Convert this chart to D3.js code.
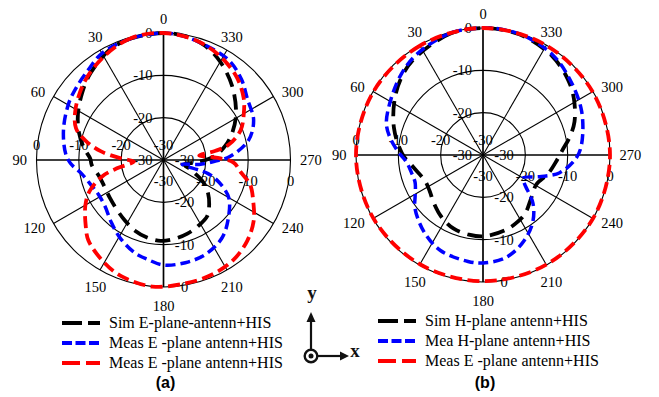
<!DOCTYPE html>
<html>
<head>
<meta charset="utf-8">
<script src="https://cdn.jsdelivr.net/npm/d3@7"></script>
<style>
  html, body { margin: 0; padding: 0; background: #fff; }
  svg { display: block; }
</style>
</head>
<body>
<svg id="chart" width="659" height="397"></svg>
<script>
// ---- Shared polar grid values ----
const ringValues = [-30, -20, -10, 0];
const ringLabels = ["-30", "-20", "-10", "0"];
const angleTicks = [0, 30, 60, 90, 120, 150, 180, 210, 240, 270, 300, 330];

// ---- Panel (a): E-plane patterns (angle in degrees, gain in dB) ----
const simEAngles = [0, 15, 26, 40, 50, 62, 72, 81, 89, 94, 104, 114, 125, 137, 148, 158, 168, 178, 188, 198, 208, 218, 226, 233, 241, 250, 258, 266, 274, 283, 291, 302, 317, 330, 340, 350];
const simEdB     = [0, -0.3, -1, -3.2, -5, -7.1, -9, -10.9, -12.7, -13, -14.3, -14.7, -14.5, -13.9, -13, -12, -11.3, -10.9, -11.2, -11.7, -12.4, -13.2, -15, -16.8, -19.3, -23, -25, -22, -18, -15, -12.7, -9.8, -6.2, -3.2, -1.3, -0.3];

const measEBlueAngles = [0, 15, 30, 40, 50, 59, 73, 86, 92, 100, 110, 118, 128, 140, 151, 163, 171, 180, 192, 204, 217, 228, 240, 248, 253, 257, 263, 269, 273, 283, 294, 306, 316, 327, 342, 352];
const measEBluedB     = [0, -0.3, -0.9, -2.3, -3.2, -3.9, -5.3, -6.8, -8, -10.5, -12, -12.6, -12.4, -10.8, -8.9, -7, -6.2, -5.2, -5.2, -5.6, -7, -9.4, -12.2, -15.8, -19, -25.5, -21.5, -17.5, -14.3, -9.4, -6.7, -5.5, -3.5, -1.8, -1, -0.3];

const measERedAngles = [0, 15, 30, 45, 60, 70, 76, 82, 88, 93, 100, 105, 113, 120, 130, 137, 150, 160, 175, 190, 203, 215, 226, 236, 245, 254, 261, 268, 273, 277, 280, 283, 291, 300, 308, 319, 332, 345];
const measEReddB     = [0, -0.2, -1.8, -3.7, -6, -8, -11, -15, -20, -23, -19, -15, -11, -8.7, -6, -4, -2, -0.8, 0, -0.4, -0.6, -1.2, -2.5, -4.3, -6.6, -8.7, -11.5, -13.5, -18, -21.5, -17.5, -14.3, -10.5, -8.1, -6, -3.8, -2, -0.7];

// ---- Panel (b): H-plane patterns ----
const simHAngles = [0, 15, 35, 45, 57, 73, 89, 100, 114, 124, 134, 146, 158, 170, 181, 197, 207, 216, 228, 241, 254, 266, 274, 282, 290, 302, 312, 325, 340, 350];
const simHdB     = [0, -0.3, -2, -3.2, -5.2, -8, -10.9, -13.3, -15, -14.8, -13.8, -12.4, -11.3, -10.9, -10.8, -11.5, -12.2, -13, -14.7, -15.6, -14, -12.5, -11.1, -9, -7, -4.7, -3.1, -1.5, -0.4, -0.1];

const measHAngles = [0, 15, 33, 45, 59, 72, 80, 88, 95, 104, 112, 121, 128, 142, 156, 172, 180, 192, 204, 216, 226, 235, 240, 249, 257, 268, 276, 294, 311, 325, 341, 352];
const measHdB     = [0, -0.2, -1.5, -2.8, -4.6, -6, -7.8, -10, -11.8, -12.6, -12.7, -11.3, -9.6, -7.2, -5.3, -4.6, -4.5, -5.1, -7.2, -10.1, -13.6, -18, -19.1, -15.7, -11.4, -8, -6.6, -4.5, -2.8, -1.2, -0.2, 0];

const measEbAngles = [0, 30, 60, 90, 120, 150, 180, 210, 240, 270, 300, 330];
const measEbdB     = [0, -0.2, -0.1, 0, -0.1, -0.2, -0.2, -0.1, 0, 0, -0.1, -0.1];

// ---- Legend texts ----
const legendA = ["Sim E-plane-antenn+HIS", "Meas E -plane antenn+HIS", "Meas E -plane antenn+HIS"];
const legendB = ["Sim H-plane antenn+HIS", "Mea H-plane antenn+HIS", "Meas E -plane antenn+HIS"];

// ---- Trace styles ----
const styles = {
  black: { color: "#000000", dash: "15,8", width: 3.8, legendDash: "20,6" },
  blue:  { color: "#0000ff", dash: "10,5", width: 3.5, legendDash: "10,3.5" },
  red:   { color: "#ff0000", dash: "12,5.5", width: 3.8, legendDash: "18,6" }
};

const zip = (a, b) => a.map((v, i) => [v, b[i]]);

const svg = d3.select("#chart");
const SERIF = "'Liberation Serif', 'Times New Roman', serif";
const R = 127;
const r = d3.scaleLinear().domain([-30, 0]).range([0, R]);

function drawPanel(cx, cy, series, legendTexts, legendX, legendY0, caption, captionY) {
  const g = svg.append("g");

  // rings
  g.selectAll("circle.ring").data(ringValues.filter(v => v > -30)).join("circle")
    .attr("cx", cx).attr("cy", cy).attr("r", d => r(d))
    .attr("fill", "none").attr("stroke", "#000").attr("stroke-width", 1.1);

  // spokes
  g.selectAll("line.spoke").data(angleTicks).join("line")
    .attr("x1", cx).attr("y1", cy)
    .attr("x2", d => cx - R * Math.sin(d * Math.PI / 180))
    .attr("y2", d => cy - R * Math.cos(d * Math.PI / 180))
    .attr("stroke", "#000")
    .attr("stroke-width", d => d % 90 === 0 ? 1.7 : 1.1);

  // angle labels
  const dLab = 136.5;
  angleTicks.forEach(a => {
    const ux = -Math.sin(a * Math.PI / 180), uy = -Math.cos(a * Math.PI / 180);
    let x = cx + ux * dLab, y = cy + uy * dLab;
    let anchor = "middle";
    if (ux > 0.6) anchor = "start"; else if (ux < -0.6) anchor = "end";
    if (uy < -0.6) y -= 5; else if (uy > 0.6) y += 9;
    g.append("text").attr("x", x).attr("y", y + 5)
      .attr("text-anchor", anchor)
      .attr("font-family", SERIF).attr("font-size", 14.5).attr("fill", "#000")
      .text(a);
  });

  // ring labels along the four main axes
  ringValues.forEach((v, i) => {
    const rr = r(v);
    const t = ringLabels[i];
    const put = (x, y, anchor) => g.append("text").attr("x", x).attr("y", y + 5)
      .attr("text-anchor", anchor).attr("font-family", SERIF)
      .attr("font-size", 14.5).attr("fill", "#000").text(t);
    put(cx - 11, cy - rr, "end");        // 0 deg axis
    put(cx - rr, cy - 15, "middle");     // 90 deg axis
    put(cx + 21, cy + rr, "middle");     // 180 deg axis
    put(cx + rr, cy + 21, "middle");     // 270 deg axis
  });

  // traces
  const line = d3.lineRadial()
    .angle(d => -d[0] * Math.PI / 180)
    .radius(d => r(d[1]))
    .curve(d3.curveCatmullRomClosed.alpha(0.5));

  series.forEach(s => {
    g.append("path")
      .attr("transform", `translate(${cx},${cy})`)
      .attr("d", line(s.data))
      .attr("fill", "none")
      .attr("stroke", s.style.color)
      .attr("stroke-width", s.style.width)
      .attr("stroke-dasharray", s.style.dash);
  });

  // legend
  series.forEach((s, i) => {
    const y = legendY0 + i * 20;
    g.append("line")
      .attr("x1", legendX).attr("x2", legendX + 38).attr("y1", y).attr("y2", y)
      .attr("stroke", s.style.color).attr("stroke-width", 4)
      .attr("stroke-dasharray", s.style.legendDash);
    g.append("text").attr("x", legendX + 47).attr("y", y + 5)
      .attr("font-family", SERIF).attr("font-size", 16).attr("fill", "#000")
      .text(legendTexts[i]);
  });

  g.append("text").attr("x", cx + 2).attr("y", captionY)
    .attr("text-anchor", "middle")
    .attr("font-family", "'Liberation Sans', Arial, sans-serif")
    .attr("font-weight", "bold").attr("font-size", 16).attr("fill", "#000")
    .text(caption);
}

drawPanel(163.5, 160, [
  { data: zip(simEAngles, simEdB), style: styles.black },
  { data: zip(measEBlueAngles, measEBluedB), style: styles.blue },
  { data: zip(measERedAngles, measEReddB), style: styles.red }
], legendA, 62, 323, "(a)", 388);

drawPanel(483, 155, [
  { data: zip(simHAngles, simHdB), style: styles.black },
  { data: zip(measHAngles, measHdB), style: styles.blue },
  { data: zip(measEbAngles, measEbdB), style: styles.red }
], legendB, 378, 321, "(b)", 388);

// ---- Coordinate system symbol ----
const cs = svg.append("g").attr("fill", "#111").attr("stroke", "#111");
const ox = 311, oy = 356;
cs.append("line").attr("x1", ox).attr("y1", oy - 7).attr("x2", ox).attr("y2", 320).attr("stroke-width", 2.2);
cs.append("path").attr("d", `M${ox},312 L${ox - 4.5},322 L${ox + 4.5},322 Z`).attr("stroke", "none");
cs.append("line").attr("x1", ox + 7).attr("y1", oy).attr("x2", 341).attr("y2", oy).attr("stroke-width", 2.2);
cs.append("path").attr("d", `M349,${oy} L340,${oy - 4.5} L340,${oy + 4.5} Z`).attr("stroke", "none");
cs.append("circle").attr("cx", ox).attr("cy", oy).attr("r", 6.3).attr("fill", "none").attr("stroke-width", 2.4);
cs.append("circle").attr("cx", ox).attr("cy", oy).attr("r", 2.5).attr("stroke", "none");
cs.append("text").attr("x", ox + 1).attr("y", 299).attr("text-anchor", "middle")
  .attr("font-family", SERIF).attr("font-weight", "bold").attr("font-size", 19).attr("stroke", "none").text("y");
cs.append("text").attr("x", 355).attr("y", 357).attr("text-anchor", "middle")
  .attr("font-family", SERIF).attr("font-weight", "bold").attr("font-size", 19).attr("stroke", "none").text("x");
</script>
</body>
</html>
